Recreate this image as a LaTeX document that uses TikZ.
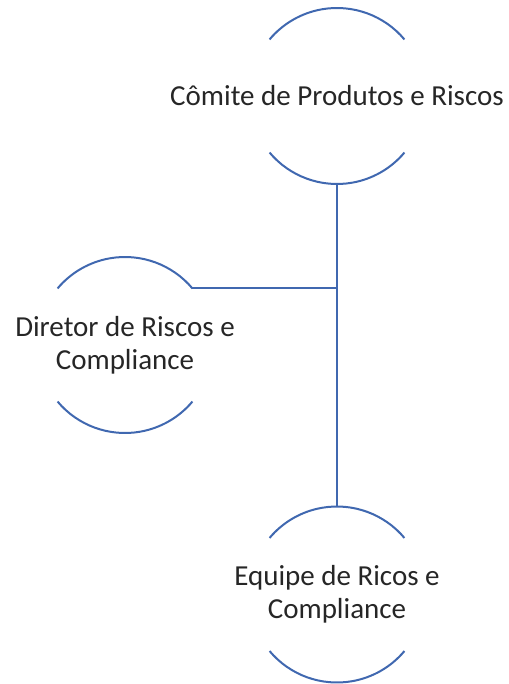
\documentclass[tikz,border=0pt]{standalone}
\usepackage{fontspec}
\setmainfont{Carlito}
\usepackage{tikz}
\usetikzlibrary{calc}
\definecolor{lineblue}{RGB}{64,104,176}
\tikzset{ring/.style={circle,inner sep=0pt,outer sep=0pt,minimum size=176pt},
label text/.style={align=center,text=black!85,font=\fontsize{29}{33}\selectfont},
every picture/.style={line width=2pt}}

\begin{document}
\begin{tikzpicture}[x=1pt,y=1pt]
\useasboundingbox (0,0) rectangle (508,-684);

\node (comite) at (337,-96) [ring] {};
\node (diretor) at (125,-345) [ring] {};
\node (equipe) at (337,-594.5) [ring] {};

\node (comiteText) at (comite) [label text] {Cômite de Produtos e Riscos};
\node (diretorText) at (diretor) [label text] {Diretor de Riscos e\\Compliance};
\node (equipeText) at (equipe) [label text] {Equipe de Ricos e\\Compliance};

\foreach \c in {comite, diretor, equipe} {
\draw [lineblue] (\c.40) arc[start angle=40, end angle=140, radius=88];
\draw [lineblue] (\c.220) arc[start angle=220, end angle=320, radius=88];
}

\coordinate (joint) at (comite.south |- diretor.40);
\draw [lineblue] (comite.south) -- (equipe.north);
\draw [lineblue] (diretor.40) -- (joint);

\end{tikzpicture}
\end{document}
